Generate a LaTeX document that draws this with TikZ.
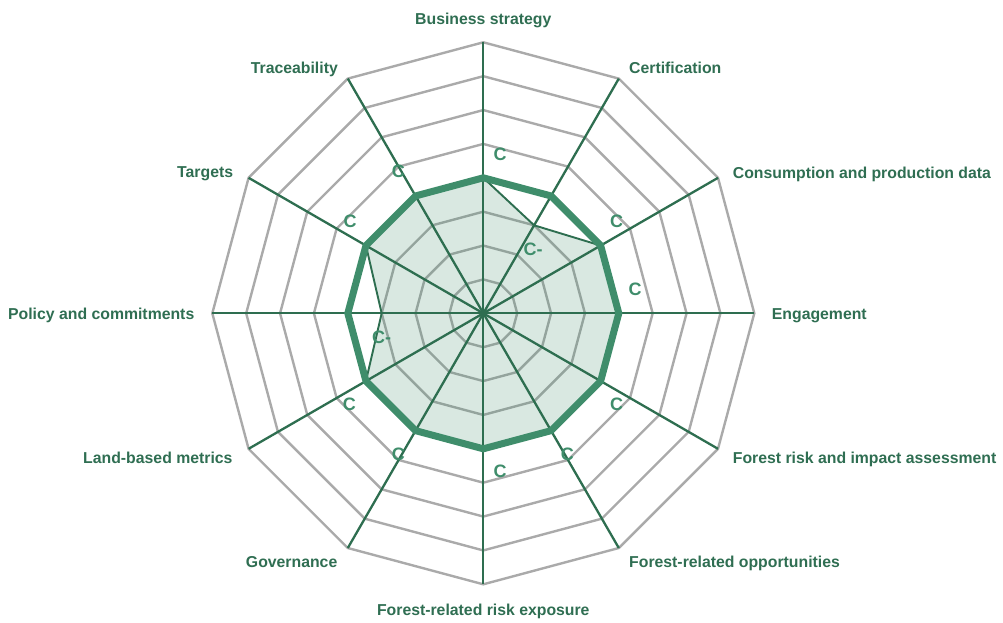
\documentclass[tikz,border=0pt]{standalone}
\usepackage{fontspec}
\setmainfont{Liberation Sans}
\definecolor{axisgreen}{HTML}{2E6E50}
\definecolor{seriesgreen}{HTML}{3F8D6B}
\definecolor{labelgreen}{HTML}{2F6E52}
\definecolor{gridgray}{HTML}{AAAAAA}
\begin{document}
\begin{tikzpicture}[x=1pt,y=-1pt,
  axislabel/.style={font=\fontsize{15.8}{18}\selectfont\bfseries, text=labelgreen, inner sep=0pt},
  gradelabel/.style={font=\fontsize{18}{20}\selectfont\bfseries, text=seriesgreen, inner sep=0pt, anchor=center},
  gridline/.style={draw=gridgray, line width=2.4pt, line join=miter},
  axisline/.style={draw=axisgreen, line width=2.3pt},
  scoreline/.style={draw=axisgreen, line width=1.9pt, fill=seriesgreen, fill opacity=0.2, draw opacity=1},
  benchline/.style={draw=seriesgreen, line width=7pt, line join=miter}]
\useasboundingbox (0,0) rectangle (1003,622);
\begin{scope}[shift={(483.3,313.3)}]
  \coordinate (O) at (0,0);
  % grid rings
  \foreach \k in {1,...,8} {
    \draw[gridline] (-90:{\k*33.875}) \foreach \a in {-60,-30,...,240} { -- (\a:{\k*33.875}) } -- cycle;
  }
  % axis end points
  \foreach \a/\n in {-90/bs,-60/ce,-30/cp,0/en,30/fr,60/fo,90/fx,120/go,150/lb,180/pc,210/ta,240/tr} {
    \coordinate (e\n) at (\a:271);
  }
  % score polygon
  \path[scoreline] (-90:135.5) -- (-60:101.625) -- (-30:135.5) -- (0:135.5) -- (30:135.5) -- (60:135.5)
     -- (90:135.5) -- (120:135.5) -- (150:135.5) -- (180:101.625) -- (210:135.5) -- (240:135.5) -- cycle;
  % axes
  \foreach \n in {bs,ce,cp,en,fr,fo,fx,go,lb,pc,ta,tr} {
    \draw[axisline] (O) -- (e\n);
  }
  % benchmark polygon
  \draw[benchline] (-90:135.5) \foreach \a in {-60,-30,...,240} { -- (\a:135.5) } -- cycle;
\end{scope}
% axis labels
\node[axislabel, anchor=base] (lbs) at (483.3,24.5) {Business strategy};
\node[axislabel, anchor=base west] (lce) at (629,73) {Certification};
\node[axislabel, anchor=base west] (lcp) at (732.7,178) {Consumption and production data};
\node[axislabel, anchor=base west] (len) at (771.7,319.3) {Engagement};
\node[axislabel, anchor=base west] (lfr) at (732.7,463) {Forest risk and impact assessment};
\node[axislabel, anchor=base west] (lfo) at (629,567) {Forest-related opportunities};
\node[axislabel, anchor=base] (lfx) at (483.3,615) {Forest-related risk exposure};
\node[axislabel, anchor=base east] (lgo) at (337.5,567) {Governance};
\node[axislabel, anchor=base east] (llb) at (232.7,463) {Land-based metrics};
\node[axislabel, anchor=base east] (lpc) at (194.5,319.5) {Policy and commitments};
\node[axislabel, anchor=base east] (lta) at (233.3,177) {Targets};
\node[axislabel, anchor=base east] (ltr) at (338,73) {Traceability};
% grade labels
\node[gradelabel] (gbs) at (500,154) {C};
\node[gradelabel] (gce) at (533,249) {C-};
\node[gradelabel] (gcp) at (616.7,221.7) {C};
\node[gradelabel] (gen) at (635,289) {C};
\node[gradelabel] (gfr) at (616.7,404) {C};
\node[gradelabel] (gfo) at (567.3,454) {C};
\node[gradelabel] (gfx) at (500,471.7) {C};
\node[gradelabel] (ggo) at (398.3,454) {C};
\node[gradelabel] (glb) at (349.3,404) {C};
\node[gradelabel] (gpc) at (381.7,337.3) {C-};
\node[gradelabel] (gta) at (350,221.7) {C};
\node[gradelabel] (gtr) at (398.3,171.7) {C};
\end{tikzpicture}
\end{document}
